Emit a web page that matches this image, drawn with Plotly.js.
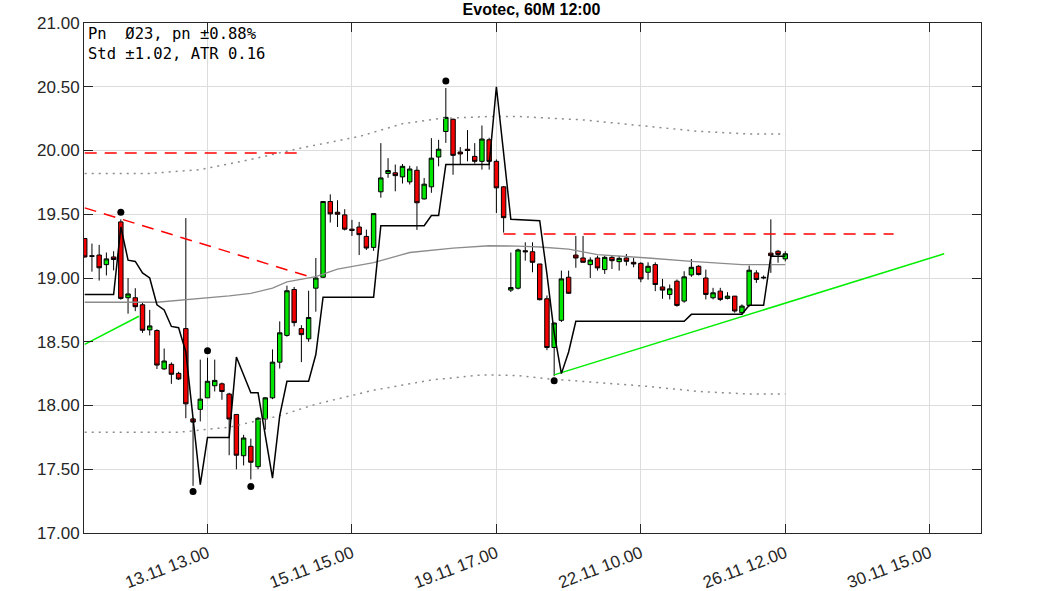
<!DOCTYPE html>
<html>
<head>
<meta charset="utf-8">
<script src="https://cdn.plot.ly/plotly-3.0.1.min.js"></script>
<style>html,body{margin:0;padding:0;background:#fff;}#chart{width:1063px;height:591px;}</style>
</head>
<body>
<div id="chart"></div>
<script>
// ---- tick labels (dates) ----
const tickIdx = [17, 37, 57, 77, 97, 117];
const tickLabels = ['13.11 13.00', '15.11 15.00', '19.11 17.00', '22.11 10.00', '26.11 12.00', '30.11 15.00'];

// ---- candles (60M bars) ----
const open = [
19.31, 19.175, 19.18, 19.105, 19.165, 19.44, 18.845, 18.845, 18.79, 18.593,
18.588, 18.287, 18.323, 18.252, 18.603, 17.895, 17.97, 18.06, 18.155, 18.17,
18.09, 17.93, 17.606, 17.68, 17.52, 17.894, 18.06, 18.34, 18.55, 18.91,
18.603, 18.523, 18.92, 19.006, 19.6, 19.516, 19.495, 19.383, 19.40, 19.326,
19.24, 19.676, 19.82, 19.825, 19.793, 19.754, 19.845, 19.62, 19.715, 19.949,
20.149, 20.245, 19.988, 20.01, 19.954, 19.915, 20.084, 19.915, 19.715, 18.905,
18.92, 19.214, 19.206, 19.11, 18.837, 18.455, 18.668, 19.006, 19.18, 19.157,
19.105, 19.157, 19.066, 19.162, 19.128, 19.157, 19.123, 19.115, 19.045, 19.105,
18.93, 18.871, 18.975, 18.819, 19.024, 19.092, 19.0, 18.845, 18.897, 18.84,
18.858, 18.728, 18.785, 19.04, 19.0, 19.195, 19.21, 19.15
];
const high = [
19.31, 19.27, 19.26, 19.20, 19.21, 19.46, 19.0, 18.92, 18.81, 18.75,
18.598, 18.447, 18.338, 18.265, 19.47, 17.90, 18.36, 18.375, 18.36, 18.18,
18.10, 17.93, 17.77, 17.74, 17.91, 18.066, 18.44, 18.66, 18.94, 18.93,
18.63, 18.90, 19.157, 19.6, 19.656, 19.61, 19.54, 19.456, 19.44, 19.38,
19.505, 20.058, 19.94, 19.89, 19.894, 19.88, 19.876, 19.785, 20.097, 20.084,
20.49, 20.25, 20.027, 20.16, 20.058, 20.196, 20.10, 19.93, 19.72, 19.20,
19.23, 19.28, 19.28, 19.11, 18.863, 18.65, 19.058, 19.058, 19.33, 19.33,
19.162, 19.175, 19.175, 19.175, 19.175, 19.188, 19.157, 19.123, 19.123, 19.123,
18.993, 18.949, 18.988, 19.053, 19.149, 19.10, 19.066, 18.923, 18.923, 18.889,
18.858, 18.793, 19.097, 19.061, 19.02, 19.46, 19.22, 19.21
];
const low = [
19.16, 19.05, 18.98, 19.02, 19.06, 18.83, 18.72, 18.74, 18.57, 18.55,
18.286, 18.28, 18.17, 18.20, 17.90, 17.37, 17.875, 18.06, 18.11, 18.045,
17.61, 17.50, 17.53, 17.42, 17.50, 17.81, 18.05, 18.29, 18.54, 18.62,
18.34, 18.50, 18.736, 19.0, 19.435, 19.40, 19.373, 19.33, 19.18, 19.22,
19.213, 19.63, 19.786, 19.68, 19.741, 19.733, 19.377, 19.616, 19.668, 19.876,
20.06, 19.81, 19.89, 19.915, 19.897, 19.85, 19.85, 19.51, 19.356, 18.89,
18.91, 19.136, 19.045, 18.824, 18.434, 18.23, 18.655, 18.875, 19.08, 19.123,
19.0, 19.058, 19.032, 19.071, 19.058, 19.097, 19.084, 18.967, 18.987, 18.897,
18.837, 18.832, 18.775, 18.806, 19.009, 19.02, 18.832, 18.832, 18.819, 18.832,
18.728, 18.715, 18.775, 18.962, 18.99, 19.04, 19.12, 19.13
];
const close = [
19.165, 19.17, 19.08, 19.15, 19.145, 18.84, 18.875, 18.775, 18.59, 18.624,
18.317, 18.349, 18.245, 18.208, 18.013, 17.87, 18.05, 18.19, 18.197, 18.11,
17.894, 17.61, 17.745, 17.555, 17.90, 18.06, 18.34, 18.57, 18.90, 18.65,
18.556, 18.69, 19.0, 19.6, 19.503, 19.50, 19.383, 19.373, 19.34, 19.235,
19.505, 19.785, 19.843, 19.803, 19.876, 19.855, 19.59, 19.736, 19.94, 20.01,
20.26, 19.962, 19.973, 20.0, 19.915, 20.09, 19.915, 19.707, 19.473, 18.925,
19.22, 19.206, 19.123, 18.83, 18.455, 18.647, 18.993, 18.88, 19.157, 19.123,
19.141, 19.079, 19.162, 19.136, 19.154, 19.131, 19.11, 18.993, 19.092, 18.949,
18.905, 18.915, 18.785, 19.009, 19.084, 19.027, 18.871, 18.884, 18.832, 18.858,
18.741, 18.78, 19.061, 18.988, 19.005, 19.175, 19.185, 19.19
];

// ---- trailing stop line (black) ----
const stopIdx = [0,4,5,6,7,8,9,10,11,12,13,14,16,17,20,21,23,24,26,27,28,31,32,33,40,41,47,48,49,50,56,57,59,63,64,65,66,67,68,83,84,91,92,94,95,97];
const stopVal = [18.87,18.87,19.40,19.14,19.13,19.04,19.0,18.79,18.75,18.62,18.61,18.42,17.38,17.75,17.75,18.38,18.10,18.10,17.43,17.92,18.19,18.19,18.40,18.85,18.85,19.41,19.41,19.49,19.49,19.89,19.89,20.50,19.46,19.45,19.03,18.57,18.25,18.42,18.66,18.66,18.715,18.715,18.786,18.786,19.17,19.17];

// ---- moving average (gray) ----
const maIdx = [0,10,20,23,26,28,32,35,40,45,51,56,60,63,67,71,78,84,91,97];
const maVal = [18.81,18.81,18.86,18.88,18.92,18.97,19.01,19.07,19.12,19.20,19.235,19.253,19.25,19.243,19.227,19.183,19.157,19.13,19.105,19.105];

// ---- std bands (gray dotted) ----
const upIdx = [0,9,16,23,30,38,44,49,56,60,69,78,85,92,97];
const upVal = [19.82,19.82,19.85,19.93,20.02,20.11,20.21,20.25,20.267,20.267,20.24,20.19,20.15,20.13,20.13];
const loIdx = [0,13,20,27,32,40,48,55,60,64,71,78,85,92,97];
const loVal = [17.79,17.79,17.83,17.92,18.01,18.12,18.20,18.24,18.235,18.21,18.18,18.15,18.11,18.09,18.09];

// ---- resistance (red dashed) & support (green) lines ----
const res1Idx = [0, 30];     const res1Val = [19.98, 19.98];
const res2Idx = [0, 31.7];   const res2Val = [19.55, 19.0];
const res3Idx = [58, 112];   const res3Val = [19.345, 19.345];
const sup1Idx = [0, 7.5];    const sup1Val = [18.48, 18.70];
const sup2Idx = [65, 119];   const sup2Val = [18.24, 19.19];

// ---- extreme markers (black dots) ----
const dotIdx = [5, 15, 17, 23, 50, 65];
const dotVal = [19.515, 17.325, 18.43, 17.365, 20.545, 18.195];

const infoText = 'Pn  Ø23, pn ±0.88%<br>Std ±1.02, ATR 0.16';
const titleText = 'Evotec, 60M 12:00';

const xIdx = open.map((_, i) => i);

const traces = [
  {type: 'candlestick', x: xIdx, open: open, high: high, low: low, close: close,
   increasing: {line: {color: '#000', width: 1}, fillcolor: '#00e600'},
   decreasing: {line: {color: '#000', width: 1}, fillcolor: '#f00000'},
   whiskerwidth: 0, hoverinfo: 'skip'},
  {type: 'scatter', mode: 'lines', x: upIdx, y: upVal, line: {color: '#8c8c8c', width: 1.5, dash: '2px,5px'}},
  {type: 'scatter', mode: 'lines', x: loIdx, y: loVal, line: {color: '#8c8c8c', width: 1.5, dash: '2px,5px'}},
  {type: 'scatter', mode: 'lines', x: maIdx, y: maVal, line: {color: '#8c8c8c', width: 1.3}},
  {type: 'scatter', mode: 'lines', x: res1Idx, y: res1Val, line: {color: '#ff0000', width: 1.5, dash: '12px,8px'}},
  {type: 'scatter', mode: 'lines', x: res2Idx, y: res2Val, line: {color: '#ff0000', width: 1.5, dash: '12px,8px'}},
  {type: 'scatter', mode: 'lines', x: res3Idx, y: res3Val, line: {color: '#ff0000', width: 1.5, dash: '12px,8px'}},
  {type: 'scatter', mode: 'lines', x: sup1Idx, y: sup1Val, line: {color: '#00ee00', width: 1.5}},
  {type: 'scatter', mode: 'lines', x: sup2Idx, y: sup2Val, line: {color: '#00ee00', width: 1.5}},
  {type: 'scatter', mode: 'lines', x: stopIdx, y: stopVal, line: {color: '#000', width: 1.5}},
  {type: 'scatter', mode: 'markers', x: dotIdx, y: dotVal, marker: {color: '#000', size: 7}}
];

const axisFont = {family: 'Liberation Sans, Arial, sans-serif', size: 17, color: '#262626'};

const layout = {
  width: 1063, height: 591,
  margin: {l: 84, r: 82, t: 23, b: 58, pad: 0},
  paper_bgcolor: '#fff', plot_bgcolor: '#fff',
  showlegend: false, hovermode: false,
  boxgap: 0.12,
  title: {text: '<b>' + titleText + '</b>', x: 0.5, xref: 'container', xanchor: 'center',
          y: 0.984, yref: 'container', yanchor: 'middle',
          font: {family: 'Liberation Sans, Arial, sans-serif', size: 16, color: '#000'}},
  xaxis: {range: [-0.1, 124.1], tickmode: 'array', tickvals: tickIdx, ticktext: tickLabels,
          tickangle: -21, ticks: 'inside', ticklen: 9, tickcolor: '#262626', tickwidth: 1,
          ticklabelstandoff: 3,
          showline: true, linecolor: '#262626', linewidth: 1, mirror: 'ticks',
          showgrid: true, gridcolor: '#dcdcdc', gridwidth: 1, zeroline: false,
          tickfont: axisFont, rangeslider: {visible: false}, fixedrange: true},
  yaxis: {range: [17, 21], tickmode: 'array', tickvals: [17, 17.5, 18, 18.5, 19, 19.5, 20, 20.5, 21],
          tickformat: '.2f', ticks: 'inside', ticklen: 9, tickcolor: '#262626', tickwidth: 1,
          showline: true, linecolor: '#262626', linewidth: 1, mirror: 'ticks',
          showgrid: true, gridcolor: '#dcdcdc', gridwidth: 1, zeroline: false,
          tickfont: axisFont, fixedrange: true},
  annotations: [{text: infoText, xref: 'paper', yref: 'paper', x: 0, y: 1,
                 xanchor: 'left', yanchor: 'top', align: 'left', showarrow: false,
                 xshift: 2, yshift: 0,
                 font: {family: 'DejaVu Sans Mono, monospace', size: 15.5, color: '#000'}}]
};

Plotly.newPlot('chart', traces, layout, {staticPlot: true, displayModeBar: false});
</script>
</body>
</html>
